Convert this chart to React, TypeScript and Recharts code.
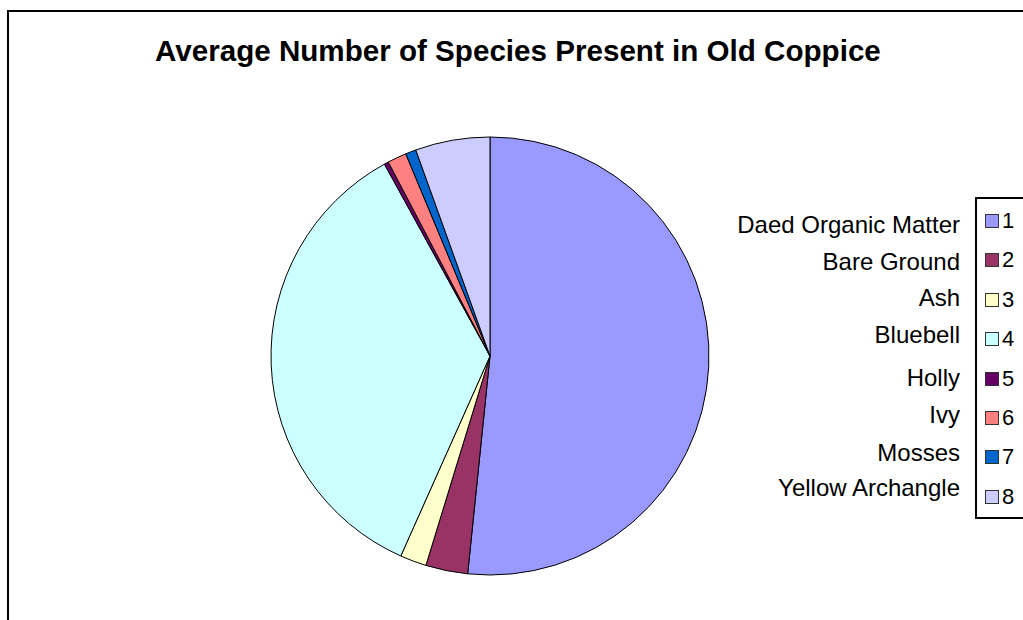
import React from 'react';
import { PieChart, Pie, Cell, Legend } from 'recharts';

const categories = ['Daed Organic Matter', 'Bare Ground', 'Ash', 'Bluebell', 'Holly', 'Ivy', 'Mosses', 'Yellow Archangle'];
const values = [51.6, 3.1, 1.95, 35.3, 0.32, 1.4, 0.78, 5.5];
const legendKeys = ['1', '2', '3', '4', '5', '6', '7', '8'];
const colors = ['#9999FF', '#993366', '#FFFFCC', '#CCFFFF', '#660066', '#FF8080', '#0066CC', '#CCCCFF'];
const labelYs = [225, 262, 298, 335, 378, 415, 453, 488];

const data = categories.map((name, i) => ({ name, value: values[i], key: legendKeys[i] }));

const font = 'Arial, "Liberation Sans", sans-serif';

function LegendContent() {
  return (
    <div style={{ position: 'relative', width: 400, height: 340, fontFamily: font }}>
      {categories.map((c, i) => (
        <div
          key={c}
          style={{
            position: 'absolute',
            right: 400 - (960 - 622),
            top: labelYs[i] - 180 - 14,
            fontSize: 24,
            lineHeight: '28px',
            color: '#000',
            whiteSpace: 'nowrap',
            textAlign: 'right',
          }}
        >
          {c}
        </div>
      ))}
      <div
        style={{
          position: 'absolute',
          left: 975 - 622,
          top: 197 - 180,
          width: 60,
          height: 322,
          border: '2px solid #000',
          boxSizing: 'border-box',
          background: '#fff',
        }}
      >
        {legendKeys.map((k, i) => (
          <div key={k} style={{ position: 'absolute', left: 8, top: 9 + i * 39.4, height: 26, display: 'flex', alignItems: 'center' }}>
            <div style={{ width: 14, height: 14, background: colors[i], border: '1px solid #333', boxSizing: 'border-box' }} />
            <span style={{ fontSize: 22, marginLeft: 3, lineHeight: '26px', color: '#000' }}>{k}</span>
          </div>
        ))}
      </div>
    </div>
  );
}

export default function App() {
  return (
    <div style={{ position: 'absolute', left: 0, top: 0, width: 1023, height: 620, background: '#fff', overflow: 'hidden' }}>
      <div
        style={{
          position: 'absolute',
          left: 7,
          top: 10,
          width: 1040,
          height: 640,
          borderLeft: '2px solid #000',
          borderTop: '2px solid #000',
          boxSizing: 'border-box',
        }}
      />
      <div
        style={{
          position: 'absolute',
          left: 155,
          top: 34,
          whiteSpace: 'nowrap',
          fontFamily: font,
          fontWeight: 'bold',
          fontSize: 29.6,
          lineHeight: '34px',
          color: '#000',
        }}
      >
        Average Number of Species Present in Old Coppice
      </div>
      <PieChart
        width={1023}
        height={620}
        margin={{ top: 0, right: 0, bottom: 0, left: 0 }}
        style={{ position: 'absolute', left: 0, top: 0 }}
      >
        <Pie
          data={data}
          dataKey="value"
          nameKey="name"
          cx={490}
          cy={356}
          outerRadius={219}
          startAngle={90}
          endAngle={-270}
          stroke="#000"
          strokeWidth={1}
          isAnimationActive={false}
          label={false}
          labelLine={false}
        >
          {data.map((d, i) => (
            <Cell key={d.name} fill={colors[i]} />
          ))}
        </Pie>
        <Legend
          content={<LegendContent />}
          wrapperStyle={{ position: 'absolute', left: 622, top: 180, width: 400, height: 340 }}
        />
      </PieChart>
    </div>
  );
}
